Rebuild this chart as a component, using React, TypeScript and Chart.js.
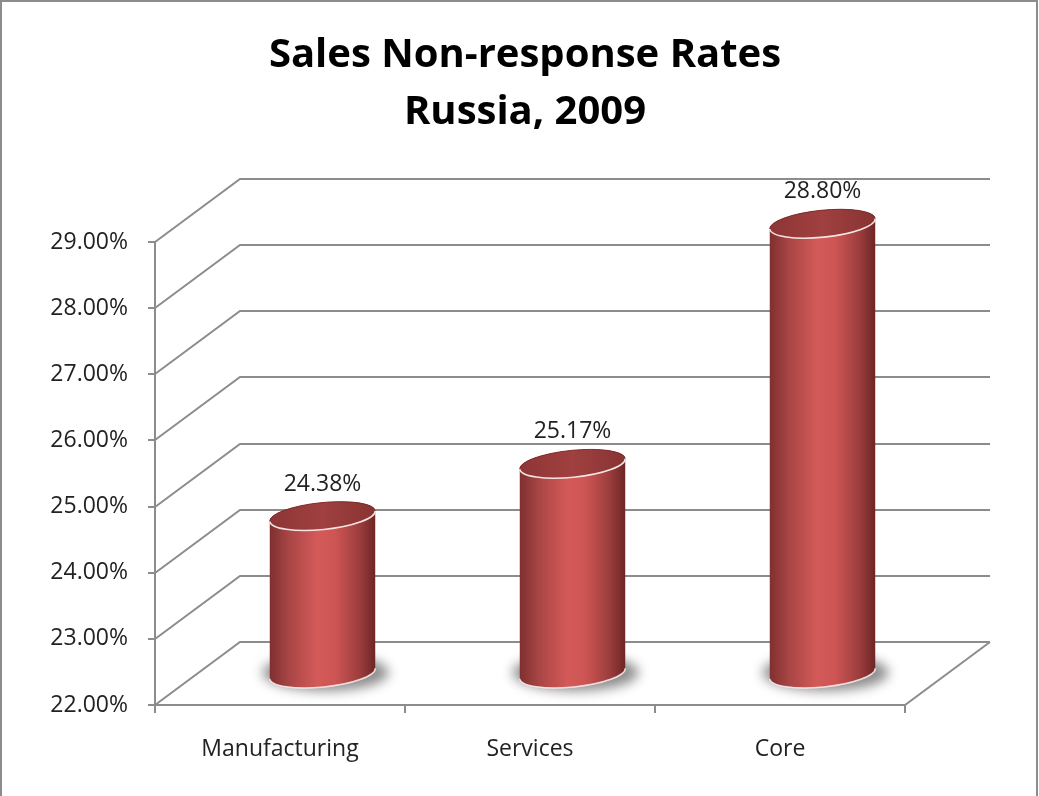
import React, { useEffect, useRef } from 'react';
import { Chart, registerables } from 'chart.js';

Chart.register(...registerables);

const categories = ['Manufacturing', 'Services', 'Core'];
const rates = [24.38, 25.17, 28.8];
const yMin = 22;
const yMax = 29;
const yStep = 1;
const titleLines = ['Sales Non-response Rates', 'Russia, 2009'];

const DEPTH_X = 85;
const DEPTH_Y = -63;
const GRID = '#8c8c8c';
const FONT = '"Open Sans", "Noto Sans", sans-serif';

const wallsPlugin = {
  id: 'walls3d',
  beforeDatasetsDraw(chart: any) {
    const { ctx, chartArea: a, scales } = chart;
    const y = scales.y;
    ctx.save();
    ctx.strokeStyle = GRID;
    ctx.lineWidth = 2;
    ctx.beginPath();
    for (let v = yMin; v <= yMax + 1e-9; v += yStep) {
      const py = Math.round(y.getPixelForValue(v));
      ctx.moveTo(a.left, py);
      ctx.lineTo(a.left + DEPTH_X, py + DEPTH_Y);
      ctx.lineTo(a.right + DEPTH_X, py + DEPTH_Y);
      ctx.moveTo(a.left - 7, py);
      ctx.lineTo(a.left, py);
    }
    ctx.moveTo(a.left, a.top);
    ctx.lineTo(a.left, a.bottom);
    ctx.moveTo(a.left, a.bottom);
    ctx.lineTo(a.right, a.bottom);
    ctx.lineTo(a.right + DEPTH_X, a.bottom + DEPTH_Y);
    const n = categories.length;
    const w = (a.right - a.left) / n;
    for (let i = 0; i <= n; i++) {
      const px = Math.round(a.left + i * w);
      ctx.moveTo(px, a.bottom);
      ctx.lineTo(px, a.bottom + 8);
    }
    ctx.stroke();
    ctx.restore();
  },
};

const cylindersPlugin = {
  id: 'cylinders',
  afterDatasetsDraw(chart: any) {
    const { ctx, scales } = chart;
    const y = scales.y;
    const meta = chart.getDatasetMeta(0);
    const base = y.getPixelForValue(yMin);
    const rx = 53;
    const ry = 13.5;
    const rot = -0.1;
    meta.data.forEach((el: any, i: number) => {
      const cx = el.x + DEPTH_X / 2;
      const ty = el.y + DEPTH_Y / 2;
      const by = base + DEPTH_Y / 2;

      // shadow
      ctx.save();
      ctx.filter = 'blur(6px)';
      ctx.fillStyle = 'rgba(0,0,0,0.45)';
      ctx.beginPath();
      ctx.ellipse(cx + 3, by - 1, rx + 10, ry + 5, 0, 0, Math.PI * 2);
      ctx.fill();
      ctx.restore();

      // body
      ctx.save();
      const g = ctx.createLinearGradient(cx - rx, 0, cx + rx, 0);
      g.addColorStop(0, '#7e2f2f');
      g.addColorStop(0.18, '#a84545');
      g.addColorStop(0.45, '#d35a58');
      g.addColorStop(0.62, '#cd5553');
      g.addColorStop(0.85, '#9c3d3d');
      g.addColorStop(1, '#6c2525');
      ctx.fillStyle = g;
      const tlx = cx - rx * Math.cos(rot);
      const tly = ty - rx * Math.sin(rot);
      ctx.beginPath();
      ctx.moveTo(tlx, tly);
      ctx.lineTo(tlx, by - rx * Math.sin(rot));
      ctx.ellipse(cx, by, rx, ry, rot, Math.PI, 0, true);
      ctx.lineTo(cx + rx * Math.cos(rot), ty + rx * Math.sin(rot));
      ctx.ellipse(cx, ty, rx, ry, rot, 0, Math.PI, true);
      ctx.closePath();
      ctx.fill();

      // bottom rim
      ctx.strokeStyle = 'rgba(255,240,240,0.85)';
      ctx.lineWidth = 1.5;
      ctx.beginPath();
      ctx.ellipse(cx, by, rx, ry, rot, Math.PI, 0, true);
      ctx.stroke();

      // top
      const tg = ctx.createLinearGradient(cx - rx, ty, cx + rx, ty);
      tg.addColorStop(0, '#8d3535');
      tg.addColorStop(0.5, '#a04040');
      tg.addColorStop(1, '#883333');
      ctx.fillStyle = tg;
      ctx.beginPath();
      ctx.ellipse(cx, ty, rx, ry, rot, 0, Math.PI * 2);
      ctx.fill();
      ctx.strokeStyle = '#f6e4e4';
      ctx.lineWidth = 1.6;
      ctx.beginPath();
      ctx.ellipse(cx, ty, rx, ry, rot, 0, Math.PI, false);
      ctx.stroke();
      ctx.strokeStyle = 'rgba(120,40,40,0.9)';
      ctx.lineWidth = 1;
      ctx.beginPath();
      ctx.ellipse(cx, ty, rx, ry, rot, Math.PI, Math.PI * 2, false);
      ctx.stroke();
      ctx.restore();

      // data label
      ctx.save();
      ctx.font = `23px ${FONT}`;
      ctx.fillStyle = '#222';
      ctx.textAlign = 'center';
      ctx.textBaseline = 'middle';
      ctx.fillText(rates[i].toFixed(2) + '%', cx, ty - 32);
      ctx.restore();
    });
  },
};

const decorPlugin = {
  id: 'decor',
  afterDraw(chart: any) {
    const { ctx } = chart;
    ctx.save();
    ctx.font = `bold 40px ${FONT}`;
    ctx.fillStyle = '#000';
    ctx.textAlign = 'center';
    ctx.textBaseline = 'alphabetic';
    ctx.fillText(titleLines[0], 525, 67);
    ctx.fillText(titleLines[1], 525, 124);
    ctx.strokeStyle = GRID;
    ctx.lineWidth = 2;
    ctx.strokeRect(1, 1, 1036, 830);
    ctx.restore();
  },
};

export default function App() {
  const ref = useRef<HTMLCanvasElement | null>(null);
  useEffect(() => {
    if (!ref.current) return;
    const chart = new Chart(ref.current, {
      type: 'bar',
      data: {
        labels: categories,
        datasets: [
          {
            data: rates,
            backgroundColor: 'rgba(0,0,0,0)',
            borderWidth: 0,
          },
        ],
      },
      options: {
        animation: false,
        responsive: true,
        maintainAspectRatio: false,
        layout: { padding: { top: 242, right: 134, left: 0, bottom: 0 } },
        plugins: {
          legend: { display: false },
          title: { display: false },
          tooltip: { enabled: false },
        },
        scales: {
          x: {
            grid: { display: false, drawTicks: false },
            border: { display: false },
            ticks: {
              font: { family: FONT, size: 23 },
              color: '#222',
              padding: 31,
              maxRotation: 0,
              autoSkip: false,
            },
            afterFit(s: any) {
              s.height = 91;
            },
          },
          y: {
            min: yMin,
            max: yMax,
            grid: { display: false, drawTicks: false },
            border: { display: false },
            ticks: {
              stepSize: yStep,
              padding: 27,
              font: { family: FONT, size: 23 },
              color: '#222',
              callback: (v: any) => Number(v).toFixed(2) + '%',
            },
            afterFit(s: any) {
              s.width = 155;
            },
          },
        },
      },
      plugins: [wallsPlugin, cylindersPlugin, decorPlugin],
    });
    return () => chart.destroy();
  }, []);
  return (
    <div style={{ position: 'fixed', left: 0, top: 0, width: 1039, height: 796, background: '#fff' }}>
      <canvas ref={ref} />
    </div>
  );
}
